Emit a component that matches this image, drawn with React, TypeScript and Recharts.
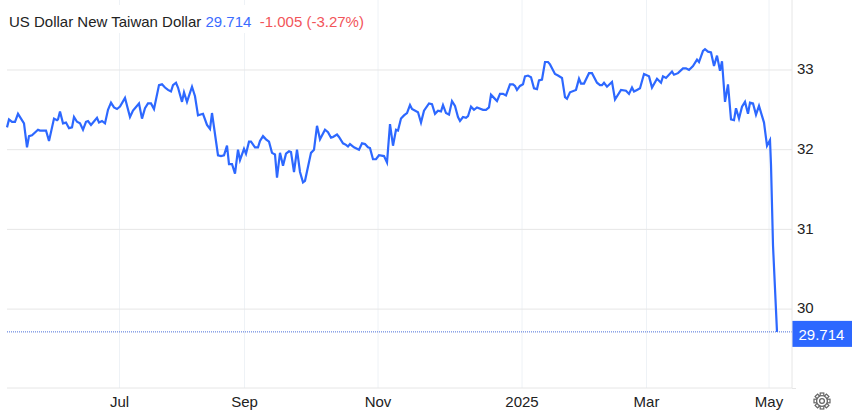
import React from "react";
import { LineChart, Line, XAxis, YAxis, CartesianGrid, ReferenceLine } from "recharts";

const W = 852;
const H = 412;

const seriesName = "US Dollar New Taiwan Dollar";
const lastPrice = 29.714;
const changeText = "-1.005 (-3.27%)";

const monthTickSteps = [112.5, 237.5, 371, 515, 639.5, 762];
const monthTickLabels = ["Jul", "Sep", "Nov", "2025", "Mar", "May"];
const priceTicks = [30, 31, 32, 33];
const priceDomain = [29.01, 33.878];

const steps = [
  0,2,5,8,11,14,17,20,22,25,31,33,39,42,47,50,51,53,56,59,62,65,67,70,73,76,79,81,84,90,92,95,98,101,104,107,110,113,118,
  123,126,132,135,138,141,144,147,152,155,158,161,164,166,169,171,175,177,180,185,188,191,196,200,203,205,211,214,217,220,222,225,228,231,233,237,239,242,244,248,251,
  253,256,259,262,265,268,270,273,276,279,282,284,287,290,293,296,298,304,307,310,313,318,321,324,326,330,332,336,339,341,343,347,352,355,358,361,363,366,369,372,377,380,
  383,386,389,391,394,397,400,403,405,411,414,417,422,425,428,431,434,436,439,442,445,448,451,453,456,459,461,464,467,470,476,479,482,484,487,490,493,496,499,
  503,506,508,510,513,516,518,521,524,527,530,532,535,538,541,543,548,551,555,558,560,563,569,572,574,577,582,585,590,593,595,597,600,605,608,614,619,622,625,627,630,
  633,637,642,645,650,654,656,659,665,667,671,676,679,682,686,690,692,696,698,701,704,707,710,713,715,718,721,724,727,729,732,735,738,741,743,746,749,752,757,760,763,764,766,770,
];

const rates = [
  32.28,32.38,32.35,32.35,32.45,32.39,32.33,32.03,32.17,32.18,32.25,32.24,32.24,32.11,32.39,32.37,32.38,32.48,32.33,32.34,32.27,32.28,32.41,32.35,32.33,32.25,32.35,32.36,32.31,32.40,32.34,32.36,32.33,32.50,32.59,32.53,32.51,32.54,32.65,
  32.41,32.49,32.58,32.39,32.52,32.58,32.58,32.51,32.81,32.82,32.78,32.75,32.73,32.81,32.84,32.78,32.60,32.72,32.60,32.79,32.67,32.43,32.45,32.31,32.26,32.46,31.93,31.92,31.93,32.05,31.82,31.82,31.70,32.00,31.87,32.01,31.95,32.10,32.10,32.03,32.03,
  32.11,32.17,32.13,32.10,31.96,31.94,31.65,31.96,31.80,31.95,31.98,31.97,31.72,32.00,31.72,31.59,31.61,31.96,32.00,32.30,32.13,32.25,32.22,32.15,32.16,32.19,32.16,32.08,32.06,32.04,32.07,32.03,32.00,32.08,32.07,32.03,32.02,31.88,31.88,31.93,31.92,31.84,
  32.32,32.05,32.25,32.24,32.39,32.43,32.46,32.56,32.51,32.47,32.34,32.49,32.58,32.57,32.45,32.49,32.48,32.56,32.46,32.44,32.61,32.55,32.41,32.36,32.41,32.40,32.42,32.54,32.50,32.53,32.50,32.50,32.53,32.69,32.65,32.61,32.70,32.70,32.68,
  32.82,32.82,32.80,32.75,32.80,32.82,32.92,32.93,32.91,32.77,32.76,32.87,32.88,33.10,33.10,33.07,32.95,32.93,32.90,32.66,32.64,32.72,32.75,32.89,32.83,32.83,32.96,32.96,32.84,32.81,32.81,32.84,32.79,32.85,32.63,32.75,32.74,32.70,32.78,32.73,32.75,
  32.77,32.95,32.92,32.78,32.89,32.84,32.92,32.90,32.98,32.94,32.96,33.02,33.02,33.00,33.05,33.13,33.10,33.24,33.26,33.23,33.22,33.05,33.18,32.99,33.11,32.60,32.82,32.38,32.37,32.52,32.39,32.54,32.60,32.45,32.59,32.58,32.44,32.55,32.34,32.05,32.12,31.81,30.80,29.714,
];

const tableRows = steps.map((step, i) => ({ step, rate: rates[i] }));

const BLUE = "#2d68ff";
const FONT = "'Liberation Sans', Arial, sans-serif";
const tickStyle = { fontSize: 15, fill: "#222222", fontFamily: FONT };

function PriceTag(props: any) {
  const vb = props.viewBox;
  const x = vb.x + vb.width;
  const y = vb.y;
  return (
    <g>
      <rect x={x} y={y - 11} width={60} height={26} fill={BLUE} />
      <text x={x + 6.5} y={y + 8} fill="#ffffff" fontSize={15} fontFamily={FONT}>
        {lastPrice.toFixed(3)}
      </text>
    </g>
  );
}

const gearTeeth = [0, 45, 90, 135, 180, 225, 270, 315];

function Gear() {
  return (
    <svg width={18} height={18} viewBox="0 0 18 18" style={{ position: "absolute", left: 813, top: 392 }}>
      {gearTeeth.map((a) => (
        <rect key={a} x={7.2} y={1} width={3.6} height={3.4} fill="none" stroke="#666" strokeWidth={1.2} transform={`rotate(${a} 9 9)`} />
      ))}
      <circle cx={9} cy={9} r={5.4} fill="#fff" stroke="#666" strokeWidth={1.3} />
      <circle cx={9} cy={9} r={2.4} fill="#fff" stroke="#666" strokeWidth={1.3} />
    </svg>
  );
}

const PLOT_LEFT = 7;
const PLOT_HEIGHT = 388;
const verticalGrid = monthTickSteps.map((s) => PLOT_LEFT + s);
const horizontalGrid = priceTicks.map(
  (p) => (PLOT_HEIGHT * (priceDomain[1] - p)) / (priceDomain[1] - priceDomain[0])
);

export default function App() {
  return (
    <div style={{ position: "absolute", left: 0, top: 0, width: W, height: H, background: "#fff", overflow: "hidden" }}>
      <LineChart width={W} height={H} data={tableRows} margin={{ top: 0, right: 0, bottom: 0, left: PLOT_LEFT }}>
        <CartesianGrid horizontal={false} verticalPoints={verticalGrid} stroke="#eef2f6" strokeWidth={1} />
        <CartesianGrid vertical={false} horizontalPoints={horizontalGrid} stroke="#e6e6e6" strokeWidth={1} />
        <XAxis
          dataKey="step"
          type="number"
          domain={[0, 785]}
          ticks={monthTickSteps}
          tickFormatter={(v: number) => monthTickLabels[monthTickSteps.indexOf(v)]}
          tick={tickStyle}
          tickLine={false}
          axisLine={{ stroke: "#e6e6e6" }}
          height={24}
          tickMargin={2}
          interval={0}
        />
        <YAxis
          orientation="right"
          type="number"
          domain={priceDomain}
          ticks={priceTicks}
          tick={{ ...tickStyle, dy: -1 }}
          tickLine={false}
          axisLine={{ stroke: "#e6e6e6" }}
          width={60}
          tickSize={5}
          tickMargin={0}
          allowDataOverflow
        />
        <ReferenceLine
          y={lastPrice}
          stroke="#4a6fd8"
          strokeDasharray="1 1"
          strokeWidth={1}
          label={<PriceTag />}
        />
        <Line
          dataKey="rate"
          type="linear"
          stroke={BLUE}
          strokeWidth={2.2}
          dot={false}
          activeDot={false}
          isAnimationActive={false}
        />
      </LineChart>
      <div
        style={{
          position: "absolute",
          left: 7,
          top: 5,
          height: 28,
          lineHeight: "34px",
          paddingLeft: 2,
          paddingRight: 4,
          background: "#fff",
          fontFamily: FONT,
          fontSize: 15,
          whiteSpace: "pre",
          color: "#222",
        }}
      >
        {seriesName} <span style={{ color: "#3b6cff" }}>{lastPrice}</span>
        <span style={{ color: "#f2555a" }}>{"  " + changeText}</span>
      </div>
      <div style={{ position: "absolute", left: 792, top: 388, width: 4, height: 1, background: "#e6e6e6" }} />
      <Gear />
    </div>
  );
}
